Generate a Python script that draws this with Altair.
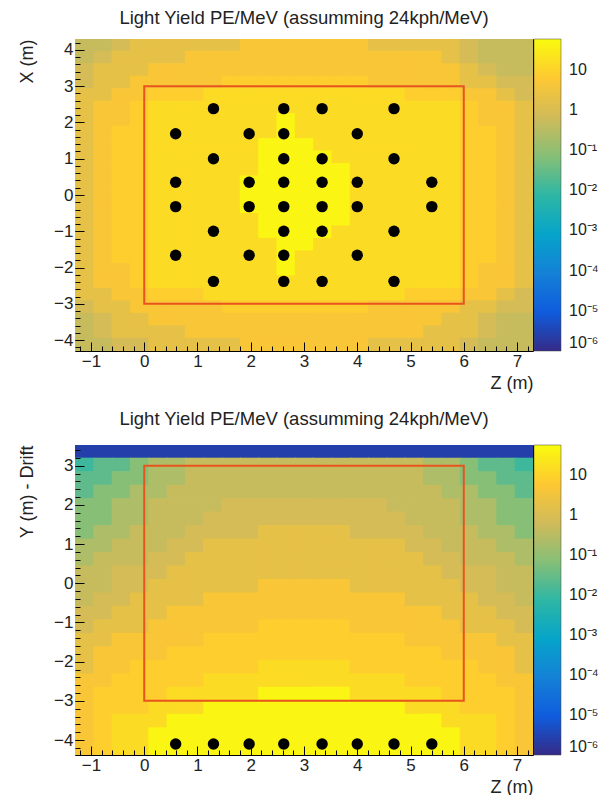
import altair as alt
import pandas as pd

TITLE = "Light Yield PE/MeV (assumming 24kph/MeV)"
FONT = "Liberation Sans"

# ---- histogram binning (m) ----
BIN_SIZE = 0.344
N_Z_BINS = 25
Z_FIRST_EDGE = -1.3          # left edge of first Z column
TOP_FIRST_EDGE = 4.3         # upper edge of first X row (top panel)
BOTTOM_FIRST_EDGE = 3.53     # upper edge of first Y row (bottom panel)
SEAM_OVERLAP = 0.02          # tiny overlap so neighbouring cells leave no hairline gap

# ---- light-yield level (PE/MeV) of each colour ----
LEVEL_PE = {
    "0": 2.5e-6, "1": 0.011, "2": 0.026, "3": 0.07, "4": 0.22, "5": 0.47,
    "6": 0.8, "7": 1.9, "8": 4.7, "9": 8.0, "a": 14.0, "b": 45.0,
}

# top panel: X rows from x=+4.3 downwards, 25 Z columns (groups of 5)
TOP_ROWS = [
    "55677 77778 88888 87777 76555",
    "56777 78888 88888 88888 76555",
    "67778 88888 88888 88888 87655",
    "67788 88899 99999 98888 87766",
    "77889 99aaa aaaaa aaa99 98876",
    "7889a aaaaa aaaaa aaaaa a9887",
    "7889a aaaaa abaaa aaaaa a9887",
    "7899a aaaaa abaaa aaaaa a9987",
    "7899a aaaaa bbbaa aaaaa a9987",
    "7899a aaaaa bbbba aaaaa a9987",
    "7899a aaaaa bbbbb aaaaa a9987",
    "7899a aaaab bbbbb aaaaa a9987",
    "7899a aaaab bbbbb aaaaa a9987",
    "7899a aaaab bbbbb aaaaa a9987",
    "7899a aaaaa bbbbb aaaaa a9987",
    "7899a aaaaa bbbba aaaaa a9987",
    "7899a aaaaa abbaa aaaaa a9987",
    "7899a aaaaa abaaa aaaaa a9987",
    "7889a aaaaa abaaa aaaaa a9887",
    "7889a aaaaa aaaaa aaaaa a9887",
    "77889 99aaa aaaaa aaa99 98876",
    "67788 88899 99999 98888 87766",
    "56778 88888 88888 88888 77655",
    "56777 78888 88888 88887 77655",
    "55667 77778 88888 87777 76555",
]

# bottom panel: Y rows from y=+3.53 downwards, 25 Z columns (groups of 5)
BOTTOM_ROWS = [
    "00000 00000 00000 00000 00000",
    "12234 45555 55555 55554 43221",
    "22334 45555 55555 55554 43322",
    "23344 55555 55555 55555 44332",
    "33445 55566 66666 66555 54433",
    "33445 55666 66666 66655 54433",
    "34455 56666 77777 66665 55443",
    "44555 66777 77777 77766 55544",
    "45556 67777 77777 77776 65554",
    "55666 77777 77777 77777 66655",
    "55667 77777 88888 77777 76655",
    "56677 77888 88888 88877 77665",
    "66777 88888 88888 88888 77766",
    "67778 88888 99999 88888 87776",
    "77888 88999 99999 99988 88877",
    "78888 99999 99999 99999 88887",
    "78899 99999 aaaaa 99999 99887",
    "88999 99aaa aaaaa aaa99 99988",
    "89999 aaaaa bbbbb aaaaa 99998",
    "8999a aabbb bbbbb bbbaa a9998",
    "89aaa bbbbb bbbbb bbbbb aaa98",
    "89aab bbbbb bbbbb bbbbb baa98",
    "89aab bbbbb bbbbb bbbbb baa98",
]

# photo-detector positions (m)
TOP_PMT_Z = [1.3, 2.62, 3.34, 4.69,
             0.59, 1.97, 2.62, 4.0,
             1.3, 2.62, 3.34, 4.69,
             0.59, 1.97, 2.62, 3.34, 4.0, 5.4,
             0.59, 1.97, 2.62, 3.34, 4.0, 5.4,
             1.3, 2.62, 3.34, 4.69,
             0.59, 1.97, 2.62, 4.0,
             1.3, 2.62, 3.34, 4.69]
TOP_PMT_X = [2.38, 2.38, 2.38, 2.38,
             1.69, 1.69, 1.69, 1.69,
             1.0, 1.0, 1.0, 1.0,
             0.35, 0.35, 0.35, 0.35, 0.35, 0.35,
             -0.32, -0.32, -0.32, -0.32, -0.32, -0.32,
             -1.0, -1.0, -1.0, -1.0,
             -1.66, -1.66, -1.66, -1.66,
             -2.38, -2.38, -2.38, -2.38]
BOTTOM_PMT_Z = [0.59, 1.3, 1.97, 2.62, 3.34, 4.0, 4.69, 5.4]
BOTTOM_PMT_Y = [-4.1, -4.1, -4.1, -4.1, -4.1, -4.1, -4.1, -4.1]

# fiducial box (m)
BOX_Z = [0.0, 6.0]
BOX_T = [-3.0, 3.0]

Z_TICKS = [-1, 0, 1, 2, 3, 4, 5, 6, 7]
X_TICKS = [-4, -3, -2, -1, 0, 1, 2, 3, 4]
Y_TICKS = [-4, -3, -2, -1, 0, 1, 2, 3]
Z_MINOR = [round(-1.2 + 0.2 * k, 1) for k in range(43)]
X_MINOR = [round(-4.2 + 0.2 * k, 1) for k in range(43)]
Y_MINOR = [round(-4.2 + 0.2 * k, 1) for k in range(39)]
CBAR_VALUES = [10, 1, 1e-1, 1e-2, 1e-3, 1e-4, 1e-5, 1e-6]

KBIRD = ["#352a87", "#0f5cdd", "#1481d6", "#06a4ca", "#2eb7a4",
         "#87bf77", "#d1bb59", "#fec832", "#f9fb0e"]
CBAR_LOG_MIN, CBAR_LOG_MAX = -6.0, 1.76
BOX_COLOR = "#e8541e"


def cells(rows, first_edge):
    recs = []
    for r, row in enumerate(rows):
        row = row.replace(" ", "")
        assert len(row) == N_Z_BINS, (r, row)
        for c, ch in enumerate(row):
            recs.append({
                "z0": Z_FIRST_EDGE + c * BIN_SIZE,
                "z1": Z_FIRST_EDGE + (c + 1) * BIN_SIZE + SEAM_OVERLAP,
                "v0": first_edge - (r + 1) * BIN_SIZE,
                "v1": first_edge - r * BIN_SIZE + SEAM_OVERLAP,
                "pe": LEVEL_PE[ch],
            })
    return pd.DataFrame(recs)


cdomain = [10 ** (CBAR_LOG_MIN + (CBAR_LOG_MAX - CBAR_LOG_MIN) * k / (len(KBIRD) - 1))
           for k in range(len(KBIRD))]
LABEL_EXPR = ("datum.value > 5 ? '10' : datum.value > 0.5 ? '1' : "
              "'10\u207b' + ['', '\u00b9', '\u00b2', '\u00b3', '\u2074', '\u2075', '\u2076']"
              "[round(-log(datum.value) / LN10)]")


def major_axis(values, title, title_padding, orient):
    return alt.Axis(values=values, title=title, grid=False, domain=False, orient=orient,
                    offset=-9, tickSize=9, tickColor="black", tickWidth=1, zindex=2,
                    labelFont=FONT, labelFontSize=17, labelColor="#222",
                    labelPadding=2, labelFlush=False, format="d",
                    titleFont=FONT, titleFontSize=18, titleFontWeight="normal",
                    titleColor="#222", titleAnchor="end", titlePadding=title_padding)


def minor_axis(values, orient):
    return alt.Axis(values=values, title=None, grid=False, domain=False, labels=False,
                    orient=orient, offset=-5, tickSize=5, tickColor="black",
                    tickWidth=1, zindex=2)


def panel(rows, first_edge, n_rows, vtitle, vticks, vminor, pmt_z, pmt_v, height,
          title_offset):
    df = cells(rows, first_edge)
    zscale = alt.Scale(domain=[Z_FIRST_EDGE, Z_FIRST_EDGE + N_Z_BINS * BIN_SIZE],
                       nice=False, zero=False)
    vscale = alt.Scale(domain=[first_edge - n_rows * BIN_SIZE, first_edge],
                       nice=False, zero=False)
    cscale = alt.Scale(type="log", domain=cdomain, range=KBIRD, interpolate="rgb",
                       clamp=True)
    legend = alt.Legend(type="gradient", title=None, orient="right", offset=1, padding=0,
                        values=CBAR_VALUES, labelExpr=LABEL_EXPR,
                        gradientLength=height, gradientThickness=27,
                        gradientStrokeColor="#444", gradientStrokeWidth=0.5,
                        labelFont=FONT, labelFontSize=16, labelColor="#222",
                        labelOffset=8, labelOverlap=False, direction="vertical")
    heat = alt.Chart(df).mark_rect(clip=True).encode(
        x=alt.X("z0:Q", scale=zscale,
                axis=major_axis(Z_TICKS, "Z (m)", 5, "bottom")),
        x2="z1:Q",
        y=alt.Y("v0:Q", scale=vscale,
                axis=major_axis(vticks, vtitle, 17, "left")),
        y2="v1:Q",
        color=alt.Color("pe:Q", scale=cscale, legend=legend),
    )
    box_df = pd.DataFrame({"z0": [BOX_Z[0]], "z1": [BOX_Z[1]],
                           "v0": [BOX_T[0]], "v1": [BOX_T[1]]})
    box = alt.Chart(box_df).mark_rect(fillOpacity=0, stroke=BOX_COLOR, strokeWidth=2).encode(
        x=alt.X("z0:Q", axis=minor_axis(Z_MINOR, "bottom")), x2="z1:Q",
        y=alt.Y("v0:Q", axis=minor_axis(vminor, "left")), y2="v1:Q",
    )
    dots = alt.Chart(pd.DataFrame({"z": pmt_z, "v": pmt_v})).mark_circle(
        size=130, color="black", opacity=1).encode(
        x=alt.X("z:Q", axis=None),
        y=alt.Y("v:Q", axis=None),
    )
    return alt.layer(heat, box, dots).resolve_axis(
        x="independent", y="independent").properties(
        width=458, height=height,
        title=alt.TitleParams(TITLE, font=FONT, fontSize=18.5, fontWeight="normal",
                              color="#222", anchor="middle", offset=title_offset),
    )


top = panel(TOP_ROWS, TOP_FIRST_EDGE, len(TOP_ROWS), "X (m)", X_TICKS, X_MINOR,
            TOP_PMT_Z, TOP_PMT_X, 312, 12)
bottom = panel(BOTTOM_ROWS, BOTTOM_FIRST_EDGE, len(BOTTOM_ROWS), "Y (m) - Drift", Y_TICKS,
               Y_MINOR, BOTTOM_PMT_Z, BOTTOM_PMT_Y, 310, 17)

chart = (
    alt.vconcat(top, bottom, spacing=16)
    .resolve_scale(x="independent", y="independent", color="independent")
    .resolve_legend(color="independent")
    .properties(padding={"left": 18, "top": 8, "right": 0, "bottom": 0},
                background="white")
    .configure_view(stroke="black", strokeWidth=1)
)

chart.save("out.html", embed_options={"renderer": "svg", "actions": False})
